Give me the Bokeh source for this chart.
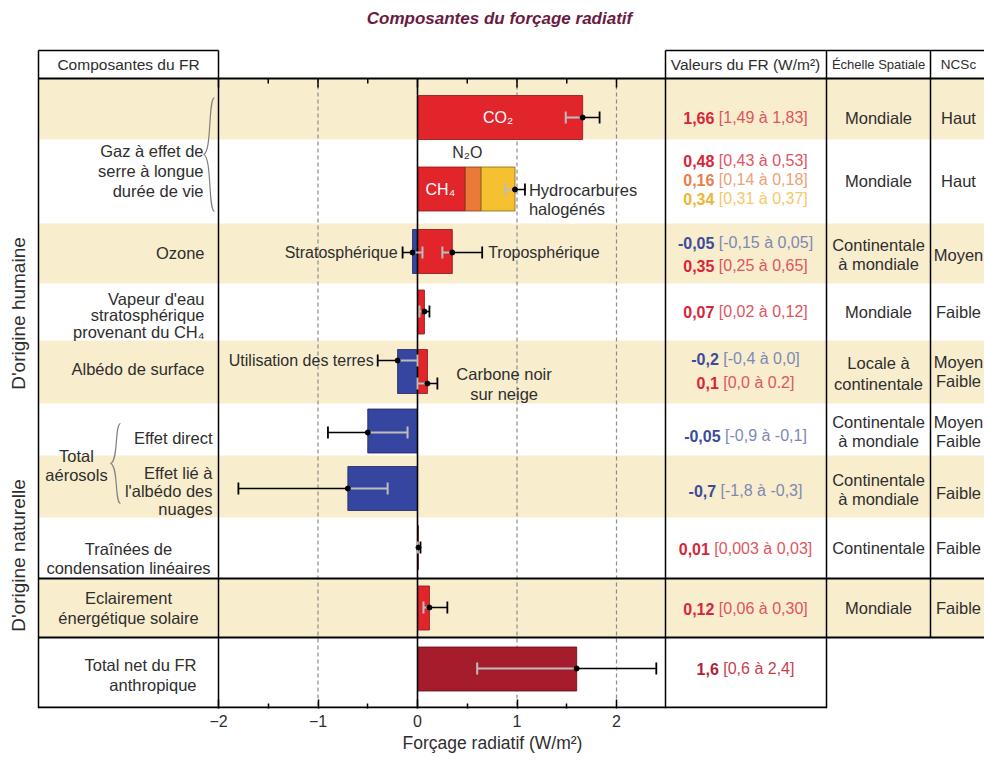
import math
from bokeh.plotting import figure
from bokeh.models import Range1d, FixedTicker, Title, ColumnDataSource
from bokeh.core.properties import value
from bokeh.embed import file_html
from bokeh.resources import INLINE

# ---------------- data ----------------
bar_names = ["CO₂", "CH₄", "N₂O", "Hydrocarbures halogénés",
             "Ozone stratosphérique", "Ozone troposphérique",
             "Vapeur d'eau stratosphérique (CH₄)",
             "Albédo : utilisation des terres", "Albédo : carbone noir sur neige",
             "Aérosols : effet direct", "Aérosols : effet lié à l'albédo des nuages",
             "Traînées de condensation linéaires", "Éclairement énergétique solaire",
             "Total net du FR anthropique"]
bar_values = [1.66, 0.48, 0.16, 0.34, -0.05, 0.35, 0.07, -0.2, 0.1, -0.5, -0.7, 0.01, 0.12, 1.6]
bar_stack = ["co2", "ghg", "ghg", "ghg", "o3s", "o3t", "h2o", "lu", "bc",
             "dir", "cld", "con", "sol", "tot"]
bar_tone = ["red", "red", "orange", "yellow", "blue", "red", "red", "blue", "red",
            "blue", "blue", "red", "red", "total"]

err_names = ["CO₂", "CH₄ + N₂O + halogénés", "Ozone strat.", "Ozone trop.", "Vapeur d'eau",
             "Utilisation des terres", "Carbone noir sur neige", "Effet direct",
             "Albédo des nuages", "Traînées", "Solaire", "Total net"]
err_best = [1.66, 0.98, -0.05, 0.35, 0.07, -0.2, 0.1, -0.5, -0.7, 0.01, 0.12, 1.6]
err_low = [1.49, 0.88, -0.15, 0.25, 0.02, -0.4, 0.0, -0.9, -1.8, 0.003, 0.06, 0.6]
err_high = [1.83, 1.08, 0.05, 0.65, 0.12, 0.0, 0.2, -0.1, -0.3, 0.03, 0.30, 2.4]

x_ticks = [-2, -1, 0, 1, 2]
x_minor_ticks = [-1.5, -0.5, 0.5, 1.5]
x_tick_labels = ["−2", "−1", "0", "1", "2"]
x_grid = [-1, 1, 2]

fr_best_txt = ["1,66", "0,48", "0,16", "0,34", "-0,05", "0,35", "0,07", "-0,2", "0,1",
               "-0,05", "-0,7", "0,01", "0,12", "1,6"]
fr_range_txt = ["[1,49 à 1,83]", "[0,43 à 0,53]", "[0,14 à 0,18]", "[0,31 à 0,37]",
                "[-0,15 à 0,05]", "[0,25 à 0,65]", "[0,02 à 0,12]", "[-0,4 à 0,0]",
                "[0,0 à 0.2]", "[-0,9 à -0,1]", "[-1,8 à -0,3]", "[0,003 à 0,03]",
                "[0,06 à 0,30]", "[0,6 à 2,4]"]
fr_tone = ["red", "red", "orange", "yellow", "blue", "red", "red", "blue", "red",
           "blue", "blue", "red", "red", "total"]

scale_txt = ["Mondiale", "Mondiale", "Continentale", "à mondiale", "Mondiale", "Locale à",
             "continentale", "Continentale", "à mondiale", "Continentale", "à mondiale",
             "Continentale", "Mondiale"]
ncsc_txt = ["Haut", "Haut", "Moyen", "Faible", "Moyen", "Faible", "Moyen", "Faible",
            "Faible", "Faible", "Faible"]

row_txt = ["Gaz à effet de", "serre à longue", "durée de vie", "Ozone", "Vapeur d'eau",
           "stratosphérique", "provenant du CH₄", "Albédo de surface", "Effet direct",
           "Effet lié à", "l'albédo des", "nuages", "Total", "aérosols", "Traînées de",
           "condensation linéaires", "Eclairement", "énergétique solaire",
           "Total net du FR", "anthropique"]

# ---------------- layout / style ----------------
FONT = "Liberation Sans"
INK = "#2e2e2e"
BEIGE = "#f8edcd"
FILL = {"red": "#e2242b", "orange": "#e97a38", "yellow": "#f5c130", "blue": "#3646a0",
        "total": "#a51c2c"}
EDGE = {"red": "#8a1418", "orange": "#8a3a14", "yellow": "#8a6414", "blue": "#1c2460",
        "total": "#5a0c14"}
TXT = {"red": ("#d6263a", "#df5560"), "orange": ("#e8804c", "#eda277"),
       "yellow": ("#efb436", "#f3c96a"), "blue": ("#3b4c9b", "#7d89b4"),
       "total": ("#b21f36", "#c7404f")}

X0 = 417.0   # page px of zero forcing
K = 99.5     # px per W/m2
W, H = 984, 760
bottom_border = 52

bar_y = [117, 188.5, 188.5, 188.5, 251, 251, 311.5, 371, 371, 430.5, 488, 547, 607.5, 668.5]
bar_h = 44
err_y = [117, 189, 252, 252, 311, 360, 383, 432, 488, 547, 607, 668]
fr_y = [117, 160, 179, 198, 242, 265, 311, 358, 382, 435, 490, 548, 608, 668]
scale_y = [117, 180, 244, 263, 311, 362, 383, 421, 440, 479, 498, 547, 607]
ncsc_y = [117, 180, 254, 311, 361, 380, 421, 440, 492, 547, 607]
row_x = [203, 203, 203, 204, 204, 204, 204, 204, 212, 212, 212, 212, 76, 76,
         128, 128, 128, 128, 196, 196]
row_y = [150, 170, 190, 252, 298, 314, 331, 368, 437, 472, 490, 508, 455, 474,
         548, 567, 597, 617, 664, 684]
row_al = ["right"] * 12 + ["center"] * 6 + ["right"] * 2
bands = [(78, 139), (223, 283), (340, 403), (455, 517), (578, 637)]

p = figure(width=W, height=H, output_backend="svg", toolbar_location=None,
           x_range=Range1d((0 - X0) / K, (W - X0) / K),
           y_range=Range1d(708, 0), y_axis_location=None, title=None,
           min_border_left=0, min_border_right=0, min_border_top=0,
           min_border_bottom=bottom_border)
p.extra_x_ranges = {"px": Range1d(0, W)}
p.outline_line_color = None
p.grid.visible = False
p.background_fill_color = "white"
p.border_fill_color = "white"

ax = p.xaxis[0]
ax.ticker = FixedTicker(ticks=x_ticks, minor_ticks=x_minor_ticks)
ax.major_label_overrides = {t: l for t, l in zip(x_ticks, x_tick_labels)}
ax.axis_line_color = None
ax.major_tick_in = 9
ax.major_tick_out = 0
ax.minor_tick_in = 5
ax.minor_tick_out = 0
ax.major_tick_line_color = "black"
ax.minor_tick_line_color = "black"
ax.major_tick_line_width = 1.5
ax.minor_tick_line_width = 1.5
ax.major_label_standoff = 6
ax.major_label_text_font = FONT
ax.major_label_text_font_size = "16px"
ax.major_label_text_color = INK

# axis title as a below-panel title, shifted to the centre of the plot region
p.add_layout(Title(text="Forçage radiatif (W/m²)", align="center", offset=446 - W / 2,
                   text_font=FONT, text_font_size="17.5px", text_font_style="normal",
                   text_color=INK, standoff=3), "below")


def T(xs, ys, texts, size=16, color=INK, align="center", style="normal", px=True, angle=0.0):
    src = ColumnDataSource(dict(x=list(xs), y=list(ys), text=list(texts)))
    kw = {"x_range_name": "px"} if px else {}
    p.text(x="x", y="y", text="text", source=src, text_font=value(FONT),
           text_font_size=f"{size}px", text_color=color, text_align=align,
           text_baseline="middle", text_font_style=style, angle=angle, **kw)


# background bands
p.quad(left=[38] * len(bands), right=[W] * len(bands), top=[b[0] for b in bands],
       bottom=[b[1] for b in bands], fill_color=BEIGE, line_color=None, x_range_name="px")

# dashed vertical grid
p.segment(x0=x_grid, x1=x_grid, y0=[78] * 3, y1=[708] * 3, line_color="#8c8c8c",
          line_width=1.2, line_dash="4 3")

# bars (stacked inside each group)
acc = {}
lefts, rights = [], []
for g, v in zip(bar_stack, bar_values):
    s = acc.get(g, 0.0)
    lefts.append(s)
    rights.append(s + v)
    acc[g] = s + v
bsrc = ColumnDataSource(dict(name=bar_names, y=bar_y, left=lefts, right=rights,
                             fill=[FILL[t] for t in bar_tone], edge=[EDGE[t] for t in bar_tone]))
p.hbar(y="y", left="left", right="right", height=bar_h, source=bsrc, fill_color="fill",
       line_color="edge", line_width=0.8)

# zero line
p.segment(x0=[0], x1=[0], y0=[78], y1=[708], line_color="black", line_width=1.6)

# top inward ticks
p.segment(x0=x_ticks, x1=x_ticks, y0=[78] * 5, y1=[87] * 5, line_color="black", line_width=1.5)
p.segment(x0=x_minor_ticks, x1=x_minor_ticks, y0=[78] * 4, y1=[83] * 4, line_color="black",
          line_width=1.5)

# error bars: grey part toward zero, black part outward
inner = [lo if b >= 0 else hi for b, lo, hi in zip(err_best, err_low, err_high)]
outer = [hi if b >= 0 else lo for b, lo, hi in zip(err_best, err_low, err_high)]
cap = 6
p.segment(x0=inner, x1=err_best, y0=err_y, y1=err_y, line_color="#bdbdbd", line_width=2)
p.segment(x0=inner, x1=inner, y0=[y - cap for y in err_y], y1=[y + cap for y in err_y],
          line_color="#bdbdbd", line_width=2)
p.segment(x0=err_best, x1=outer, y0=err_y, y1=err_y, line_color="black", line_width=1.5)
p.segment(x0=outer, x1=outer, y0=[y - cap for y in err_y], y1=[y + cap for y in err_y],
          line_color="black", line_width=1.8)
p.scatter(x=err_best, y=err_y, size=5, color="black")

# table lines
hl = [(38, 218, 50, 1.5), (665, W, 50, 1.5), (38, W, 78, 2), (38, W, 578, 2),
      (38, W, 637, 2), (38, 826, 707, 2)]
p.segment(x0=[h[0] for h in hl], x1=[h[1] for h in hl], y0=[h[2] for h in hl],
          y1=[h[2] for h in hl], line_width=[h[3] for h in hl], line_color="black",
          x_range_name="px")
vl = [(38, 50, 708), (218, 50, 708), (665, 50, 708), (826, 50, 708), (930, 50, 637)]
p.segment(x0=[v[0] for v in vl], x1=[v[0] for v in vl], y0=[v[1] for v in vl],
          y1=[v[2] for v in vl], line_color="black", line_width=1.5, x_range_name="px")

# braces
def brace(xe, xt, y0, y1):
    ym = (y0 + y1) / 2
    xs = (xe + xt) / 2
    return [
        (xe, y0, xt, ym, xs - 1, y0 + 1, xs + 3, ym - 2),
        (xt, ym, xe, y1, xs + 3, ym + 2, xs - 1, y1 - 1),
    ]

bz = brace(214, 203, 97, 211) + brace(120, 110, 423, 503)
p.bezier(x0=[b[0] for b in bz], y0=[b[1] for b in bz], x1=[b[2] for b in bz],
         y1=[b[3] for b in bz], cx0=[b[4] for b in bz], cy0=[b[5] for b in bz],
         cx1=[b[6] for b in bz], cy1=[b[7] for b in bz], line_color="#808080",
         line_width=1.2, x_range_name="px")

# title
T([499], [18], ["Composantes du forçage radiatif"], size=17, color="#6a1b42",
  style="bold italic")

# headers
T([128], [64], ["Composantes du FR"], size=15.5)
T([745], [64], ["Valeurs du FR (W/m²)"], size=15.5)
T([878], [64], ["Échelle Spatiale"], size=13)
T([958], [64], ["NCSc"], size=13.5)

# row labels
for s, x, y, a in zip(row_txt, row_x, row_y, row_al):
    T([x], [y], [s], size=16.5, align=a)

T([18], [313], ["D'origine humaine"], size=19, angle=math.pi / 2)
T([18], [555], ["D'origine naturelle"], size=19, angle=math.pi / 2)

# labels inside the chart (data units on x)
T([0.81], [117], ["CO₂"], size=16, color="white", px=False)
T([0.5], [152], ["N₂O"], size=16, px=False)
T([0.23], [189], ["CH₄"], size=16, color="white", px=False)
T([1.12, 1.12], [189, 208], ["Hydrocarbures", "halogénés"], size=16.5, align="left", px=False)
T([-0.2], [252], ["Stratosphérique"], size=16, align="right", px=False)
T([0.71], [252], ["Troposphérique"], size=16, align="left", px=False)
T([-0.44], [360], ["Utilisation des terres"], size=16, align="right", px=False)
T([0.87, 0.87], [373, 393], ["Carbone noir", "sur neige"], size=16.5, px=False)

# value column: bold best estimate + range, centred on column
CW = {",": 0.278, ".": 0.278, " ": 0.278, "[": 0.278, "]": 0.278, "-": 0.333}
def wid(s, size):
    return sum(CW.get(c, 0.556) for c in s) * size

VS = 16
for b, r, t, y in zip(fr_best_txt, fr_range_txt, fr_tone, fr_y):
    wb = wid(b, VS)
    wr = wid(r, VS)
    sp = 0.278 * VS
    left = 745 - (wb + sp + wr) / 2
    T([left], [y], [b], size=VS, color=TXT[t][0], align="left", style="bold")
    T([left + wb + sp], [y], [r], size=VS, color=TXT[t][1], align="left")

T([878] * len(scale_txt), scale_y, scale_txt, size=16.5)
T([958] * len(ncsc_txt), ncsc_y, ncsc_txt, size=16.5)

open("out.html", "w").write(file_html(p, INLINE, title="Composantes du forçage radiatif"))
